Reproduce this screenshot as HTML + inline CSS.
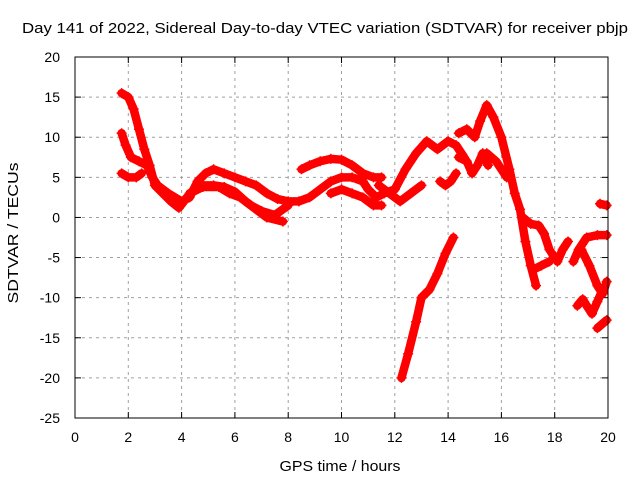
<!DOCTYPE html>
<html><head><meta charset="utf-8"><style>
body{margin:0;background:#fff;}
svg{display:block;font-family:"Liberation Sans",sans-serif;font-size:14px;}
</style></head><body>
<svg id="chart" width="640" height="480">
<text x="325" y="33" text-anchor="middle" font-size="15" textLength="606" lengthAdjust="spacingAndGlyphs">Day 141 of 2022, Sidereal Day-to-day VTEC variation (SDTVAR) for receiver pbjp</text>
<g id="grid"></g>
<g id="ticks"></g>
<g id="marks"></g>
<rect x="75" y="57" width="533" height="361" fill="none" stroke="#000"/>
<text x="340" y="471" text-anchor="middle" font-size="15" textLength="121" lengthAdjust="spacingAndGlyphs">GPS time / hours</text>
<text transform="translate(18,233) rotate(-90)" text-anchor="middle" font-size="15" textLength="141" lengthAdjust="spacingAndGlyphs">SDTVAR / TECUs</text>
</svg>
<script>
const xTicks=[0,2,4,6,8,10,12,14,16,18,20];
const yTicks=[20,15,10,5,0,-5,-10,-15,-20,-25];
const tracks=[
[[1.75,15.5],[2.0,15],[2.2,13.5],[2.4,11],[2.6,8.5],[2.8,6.5],[3.0,4],[3.3,3],[3.6,2],[3.9,1.2],[4.2,2.5],[4.5,3.5],[4.8,4],[5.2,4],[5.6,3.8],[6.0,3.2],[6.4,2],[6.8,1],[7.2,0],[7.8,-0.5]],
[[1.75,10.5],[1.9,9],[2.1,7.5],[2.4,7],[2.7,6.5],[2.9,5],[3.1,4],[3.5,3],[4.0,2],[4.3,2.5],[4.6,4.5],[4.9,5.5],[5.2,6],[5.6,5.5],[6.0,5],[6.4,4.5],[6.8,4],[7.2,3],[7.6,2.3],[8.0,2],[8.4,2],[8.8,2.5],[9.2,3.5],[9.6,4.5],[10.0,5],[10.4,5],[10.8,4.5],[11.0,3.5],[11.3,2.5],[11.6,3],[12.0,3.5],[12.4,6],[12.8,8],[13.2,9.5],[13.6,8.5],[14.0,9.5],[14.3,9],[14.6,7.5]],
[[1.75,5.5],[2.0,5],[2.3,5],[2.5,5.5]],
[[4.3,3],[4.8,3.8],[5.4,3.8],[5.8,3],[6.2,2.5],[6.6,1.5],[7.0,0.8],[7.5,0.3],[8.0,1.5]],
[[8.5,6],[8.8,6.5],[9.2,7],[9.6,7.3],[10.0,7.2],[10.4,6.5],[10.8,5.5],[11.2,5],[11.5,5]],
[[9.6,3],[10.0,3.5],[10.4,3],[10.8,2.5],[11.2,1.5],[11.5,1.5]],
[[11.4,4],[11.8,3],[12.2,2],[12.6,3],[13.0,4]],
[[12.25,-20],[12.5,-17],[12.8,-13],[13.0,-10],[13.3,-9],[13.6,-7],[13.9,-4.5],[14.2,-2.5]],
[[13.7,4.5],[13.9,4],[14.1,4.5],[14.3,5.5]],
[[14.4,10.5],[14.7,11],[15.0,10],[15.2,12],[15.45,14],[15.7,12.5],[16.0,10],[16.3,6],[16.5,3],[16.7,1],[16.9,-3],[17.1,-6],[17.3,-8.5]],
[[14.4,7.5],[14.7,7],[14.9,5.5],[15.1,6.5],[15.3,8],[15.5,6.5]],
[[15.45,8],[15.8,7],[16.2,5]],
[[16.8,0],[17.1,-0.8],[17.4,-1],[17.6,-2],[17.8,-4]],
[[17.2,-6.5],[17.5,-6],[17.8,-5.5]],
[[17.9,-4.5],[18.1,-5.5],[18.3,-4],[18.5,-3]],
[[18.7,-5.5],[18.9,-4],[19.2,-2.5],[19.6,-2.2],[19.95,-2.2]],
[[19.0,-4],[19.3,-6],[19.6,-8.5],[19.8,-9.5],[19.95,-8]],
[[18.85,-11],[19.05,-10.2],[19.2,-11],[19.4,-12],[19.6,-10.5],[19.8,-9]],
[[19.6,-13.8],[19.95,-12.8]],
[[19.7,1.7],[19.95,1.5]]
];
const X0=75,X1=608,Y0=418,Y1=57;
const sx=v=>X0+(v-0)/(20-0)*(X1-X0);
const sy=v=>Y0-(v+25)/(45)*(Y0-Y1);
const NS="http://www.w3.org/2000/svg";
function mk(t,a,p){const e=document.createElementNS(NS,t);for(const k in a)e.setAttribute(k,a[k]);p.appendChild(e);return e;}
const grid=document.getElementById('grid'),ticks=document.getElementById('ticks'),marks=document.getElementById('marks');
xTicks.forEach(v=>{const x=sx(v);
 if(v>0&&v<20){const l=mk('line',{x1:x,x2:x,y1:Y1,y2:Y0,stroke:'#a0a0a0','stroke-dasharray':'3,4'},grid);}
 mk('line',{x1:x,x2:x,y1:Y0,y2:Y0-6,stroke:'#000'},ticks);mk('line',{x1:x,x2:x,y1:Y1,y2:Y1+6,stroke:'#000'},ticks);
 const t=mk('text',{x:x,y:Y0+24,'text-anchor':'middle'},ticks);t.textContent=v;
 });
yTicks.forEach(v=>{const y=sy(v);
 if(v>-25&&v<20){const l=mk('line',{x1:X0,x2:X1,y1:y,y2:y,stroke:'#a0a0a0','stroke-dasharray':'3,4'},grid);}
 mk('line',{x1:X0,x2:X0+6,y1:y,y2:y,stroke:'#000'},ticks);mk('line',{x1:X1,x2:X1-6,y1:y,y2:y,stroke:'#000'},ticks);
 const t=mk('text',{x:X0-15,y:y+5,'text-anchor':'end'},ticks);t.textContent=v;
 });
tracks.forEach((tr,i)=>{
 const pl=mk('polyline',{points:tr.map(p=>sx(p[0])+','+sy(p[1])).join(' '),fill:'none',stroke:'#f00','stroke-width':8.5,'stroke-linejoin':'round','stroke-linecap':'round'},marks);
 
 
 tr.forEach(p=>{const x=sx(p[0]),y=sy(p[1]);
  const g=mk('path',{d:`M${x-5},${y}H${x+5}M${x},${y-5}V${y+5}`,stroke:'#f00','stroke-width':1.5},marks);
  
  });
});
</script>
</body></html>
